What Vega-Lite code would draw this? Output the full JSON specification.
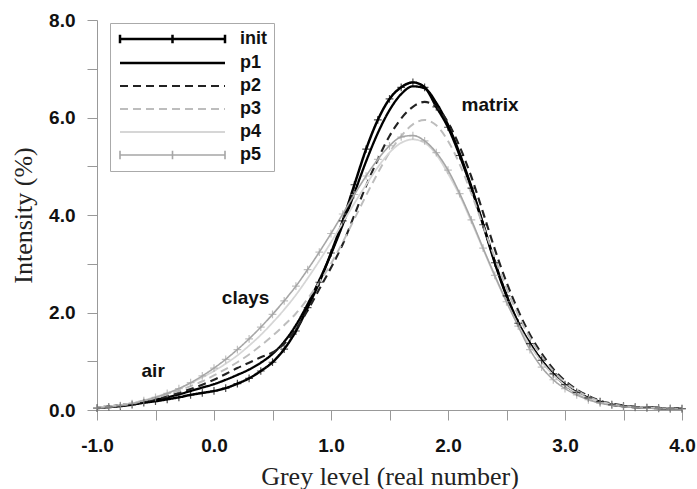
{
  "$schema": "https://vega.github.io/schema/vega-lite/v6.json",
  "width": 585,
  "height": 390,
  "autosize": {"type": "none"},
  "padding": {"left": 97, "top": 20, "right": 15, "bottom": 79},
  "background": "white",
  "config": {
    "view": {"stroke": null},
    "axis": {
      "grid": false,
      "domainColor": "#999",
      "tickColor": "#999",
      "labelFont": "Liberation Sans",
      "labelFontWeight": "bold",
      "labelFontSize": 19,
      "labelColor": "#111",
      "titleFont": "Liberation Serif",
      "titleFontWeight": "normal",
      "titleFontSize": 26,
      "titleColor": "#222"
    }
  },
  "datasets": {
    "curves": [
      {"x": -1.0, "init": 0.04, "p1": 0.05, "p2": 0.05, "p3": 0.05, "p4": 0.05, "p5": 0.04},
      {"x": -0.9, "init": 0.06, "p1": 0.07, "p2": 0.07, "p3": 0.07, "p4": 0.07, "p5": 0.06},
      {"x": -0.8, "init": 0.08, "p1": 0.09, "p2": 0.10, "p3": 0.10, "p4": 0.10, "p5": 0.09},
      {"x": -0.7, "init": 0.11, "p1": 0.12, "p2": 0.13, "p3": 0.14, "p4": 0.14, "p5": 0.13},
      {"x": -0.6, "init": 0.15, "p1": 0.16, "p2": 0.17, "p3": 0.19, "p4": 0.20, "p5": 0.19},
      {"x": -0.5, "init": 0.18, "p1": 0.21, "p2": 0.22, "p3": 0.25, "p4": 0.27, "p5": 0.26},
      {"x": -0.4, "init": 0.22, "p1": 0.26, "p2": 0.28, "p3": 0.32, "p4": 0.35, "p5": 0.34},
      {"x": -0.3, "init": 0.26, "p1": 0.32, "p2": 0.35, "p3": 0.40, "p4": 0.44, "p5": 0.44},
      {"x": -0.2, "init": 0.31, "p1": 0.39, "p2": 0.43, "p3": 0.49, "p4": 0.55, "p5": 0.56},
      {"x": -0.1, "init": 0.35, "p1": 0.46, "p2": 0.52, "p3": 0.59, "p4": 0.67, "p5": 0.70},
      {"x": 0.0, "init": 0.39, "p1": 0.53, "p2": 0.62, "p3": 0.71, "p4": 0.80, "p5": 0.86},
      {"x": 0.1, "init": 0.45, "p1": 0.62, "p2": 0.74, "p3": 0.84, "p4": 0.95, "p5": 1.04},
      {"x": 0.2, "init": 0.54, "p1": 0.72, "p2": 0.86, "p3": 0.98, "p4": 1.12, "p5": 1.24},
      {"x": 0.3, "init": 0.65, "p1": 0.83, "p2": 0.97, "p3": 1.14, "p4": 1.32, "p5": 1.46},
      {"x": 0.4, "init": 0.80, "p1": 0.97, "p2": 1.08, "p3": 1.32, "p4": 1.54, "p5": 1.70},
      {"x": 0.5, "init": 0.98, "p1": 1.15, "p2": 1.18, "p3": 1.52, "p4": 1.79, "p5": 1.96},
      {"x": 0.6, "init": 1.25, "p1": 1.40, "p2": 1.36, "p3": 1.74, "p4": 2.06, "p5": 2.24},
      {"x": 0.7, "init": 1.62, "p1": 1.74, "p2": 1.66, "p3": 1.98, "p4": 2.36, "p5": 2.54},
      {"x": 0.8, "init": 2.10, "p1": 2.17, "p2": 2.04, "p3": 2.28, "p4": 2.70, "p5": 2.88},
      {"x": 0.9, "init": 2.62, "p1": 2.66, "p2": 2.48, "p3": 2.62, "p4": 3.06, "p5": 3.24},
      {"x": 1.0, "init": 3.22, "p1": 3.20, "p2": 2.92, "p3": 3.00, "p4": 3.44, "p5": 3.62},
      {"x": 1.1, "init": 3.88, "p1": 3.80, "p2": 3.40, "p3": 3.44, "p4": 3.84, "p5": 4.02},
      {"x": 1.2, "init": 4.62, "p1": 4.45, "p2": 4.00, "p3": 3.92, "p4": 4.24, "p5": 4.42},
      {"x": 1.3, "init": 5.35, "p1": 5.10, "p2": 4.60, "p3": 4.40, "p4": 4.62, "p5": 4.80},
      {"x": 1.4, "init": 5.95, "p1": 5.68, "p2": 5.14, "p3": 4.86, "p4": 4.98, "p5": 5.14},
      {"x": 1.5, "init": 6.38, "p1": 6.15, "p2": 5.62, "p3": 5.28, "p4": 5.28, "p5": 5.42},
      {"x": 1.6, "init": 6.62, "p1": 6.48, "p2": 5.98, "p3": 5.62, "p4": 5.48, "p5": 5.60},
      {"x": 1.7, "init": 6.72, "p1": 6.64, "p2": 6.22, "p3": 5.86, "p4": 5.55, "p5": 5.63},
      {"x": 1.8, "init": 6.62, "p1": 6.60, "p2": 6.32, "p3": 5.95, "p4": 5.48, "p5": 5.52},
      {"x": 1.9, "init": 6.22, "p1": 6.30, "p2": 6.22, "p3": 5.84, "p4": 5.24, "p5": 5.28},
      {"x": 2.0, "init": 5.80, "p1": 5.85, "p2": 5.90, "p3": 5.52, "p4": 4.85, "p5": 4.92},
      {"x": 2.1, "init": 5.22, "p1": 5.26, "p2": 5.40, "p3": 5.04, "p4": 4.40, "p5": 4.44},
      {"x": 2.2, "init": 4.55, "p1": 4.58, "p2": 4.78, "p3": 4.44, "p4": 3.86, "p5": 3.90},
      {"x": 2.3, "init": 3.80, "p1": 3.82, "p2": 4.05, "p3": 3.78, "p4": 3.30, "p5": 3.32},
      {"x": 2.4, "init": 3.02, "p1": 3.04, "p2": 3.30, "p3": 3.12, "p4": 2.74, "p5": 2.76},
      {"x": 2.5, "init": 2.34, "p1": 2.36, "p2": 2.62, "p3": 2.50, "p4": 2.22, "p5": 2.22},
      {"x": 2.6, "init": 1.78, "p1": 1.80, "p2": 2.04, "p3": 1.95, "p4": 1.74, "p5": 1.72},
      {"x": 2.7, "init": 1.36, "p1": 1.37, "p2": 1.55, "p3": 1.48, "p4": 1.33, "p5": 1.24},
      {"x": 2.8, "init": 1.02, "p1": 1.02, "p2": 1.16, "p3": 1.10, "p4": 0.99, "p5": 0.88},
      {"x": 2.9, "init": 0.74, "p1": 0.74, "p2": 0.84, "p3": 0.80, "p4": 0.72, "p5": 0.62},
      {"x": 3.0, "init": 0.52, "p1": 0.52, "p2": 0.60, "p3": 0.57, "p4": 0.51, "p5": 0.44},
      {"x": 3.1, "init": 0.36, "p1": 0.36, "p2": 0.42, "p3": 0.40, "p4": 0.35, "p5": 0.31},
      {"x": 3.2, "init": 0.25, "p1": 0.25, "p2": 0.29, "p3": 0.27, "p4": 0.24, "p5": 0.21},
      {"x": 3.3, "init": 0.17, "p1": 0.17, "p2": 0.19, "p3": 0.18, "p4": 0.16, "p5": 0.14},
      {"x": 3.4, "init": 0.11, "p1": 0.11, "p2": 0.13, "p3": 0.12, "p4": 0.11, "p5": 0.10},
      {"x": 3.5, "init": 0.08, "p1": 0.08, "p2": 0.09, "p3": 0.08, "p4": 0.08, "p5": 0.07},
      {"x": 3.6, "init": 0.06, "p1": 0.06, "p2": 0.06, "p3": 0.06, "p4": 0.06, "p5": 0.05},
      {"x": 3.7, "init": 0.05, "p1": 0.05, "p2": 0.05, "p3": 0.05, "p4": 0.05, "p5": 0.04},
      {"x": 3.8, "init": 0.04, "p1": 0.04, "p2": 0.04, "p3": 0.04, "p4": 0.04, "p5": 0.03},
      {"x": 3.9, "init": 0.03, "p1": 0.03, "p2": 0.03, "p3": 0.03, "p4": 0.03, "p5": 0.03},
      {"x": 4.0, "init": 0.03, "p1": 0.03, "p2": 0.03, "p3": 0.03, "p4": 0.03, "p5": 0.02}
    ],
    "notes": [
      {"x": 2.36, "y": 6.26, "label": "matrix"},
      {"x": 0.27, "y": 2.3, "label": "clays"},
      {"x": -0.52, "y": 0.79, "label": "air"}
    ]
  },
  "layer": [
    {
      "data": {"name": "curves"},
      "transform": [{"fold": ["init", "p1", "p2", "p3", "p4", "p5"], "as": ["series", "value"]}],
      "mark": {"type": "line", "interpolate": "monotone"},
      "encoding": {
        "x": {
          "field": "x", "type": "quantitative",
          "scale": {"domain": [-1, 4], "nice": false, "zero": false},
          "axis": {
            "title": "Grey level (real number)",
            "values": [-1, -0.5, 0, 0.5, 1, 1.5, 2, 2.5, 3, 3.5, 4],
            "labelExpr": "datum.value % 1 === 0 ? (datum.value < 0 ? '-' + format(-datum.value, '.1f') : format(datum.value, '.1f')) : ''",
            "tickSize": 10,
            "labelPadding": 16,
            "titlePadding": 8,
            "labelFlush": false,
            "labelOverlap": false
          }
        },
        "y": {
          "field": "value", "type": "quantitative",
          "scale": {"domain": [0, 8], "nice": false},
          "axis": {
            "title": "Intensity (%)",
            "values": [0, 1, 2, 3, 4, 5, 6, 7, 8],
            "labelExpr": "datum.value % 2 === 0 ? format(datum.value, '.1f') : ''",
            "tickSize": 10,
            "labelPadding": 12,
            "titlePadding": 12,
            "labelOverlap": false
          }
        },
        "color": {
          "field": "series", "type": "nominal",
          "scale": {"domain": ["init", "p1", "p2", "p3", "p4", "p5"], "range": ["#000000", "#000000", "#222222", "#bdbdbd", "#d6d6d6", "#a6a6a6"]},
          "legend": {
            "title": null, "orient": "none", "legendX": 13, "legendY": 3,
            "symbolType": "stroke", "symbolSize": 100,
            "labelFont": "Liberation Sans", "labelFontWeight": "bold", "labelFontSize": 18, "labelColor": "#111",
            "rowPadding": 5, "padding": 7,
            "strokeColor": "#aaa", "fillColor": "white",
            "encode": {
              "symbols": {"update": {
                "shape": {"signal": "datum.value === 'init' || datum.value === 'p5' ? 'M-1,0H1M-1,-0.08V0.08M0,-0.08V0.08M1,-0.08V0.08' : 'stroke'"},
                "size": {"value": 11025},
                "x": {"value": 55.5},
                "y": {"value": 9}
              }},
              "labels": {"update": {"x": {"value": 123}, "y": {"value": 9}}}
            }
          }
        },
        "strokeDash": {
          "field": "series", "type": "nominal",
          "scale": {"domain": ["init", "p1", "p2", "p3", "p4", "p5"], "range": [[1, 0], [1, 0], [8, 5], [8, 5], [1, 0], [1, 0]]},
          "legend": {
            "title": null, "orient": "none", "legendX": 13, "legendY": 3,
            "symbolType": "stroke", "symbolSize": 100,
            "labelFont": "Liberation Sans", "labelFontWeight": "bold", "labelFontSize": 18, "labelColor": "#111",
            "rowPadding": 5, "padding": 7,
            "strokeColor": "#aaa", "fillColor": "white"
          }
        },
        "strokeWidth": {
          "field": "series", "type": "nominal",
          "scale": {"domain": ["init", "p1", "p2", "p3", "p4", "p5"], "range": [2.5, 1.6, 1.6, 1.8, 1, 2.5]},
          "legend": {
            "title": null, "orient": "none", "legendX": 13, "legendY": 3,
            "symbolType": "stroke", "symbolSize": 100,
            "labelFont": "Liberation Sans", "labelFontWeight": "bold", "labelFontSize": 18, "labelColor": "#111",
            "rowPadding": 5, "padding": 7,
            "strokeColor": "#aaa", "fillColor": "white"
          }
        }
      }
    },
    {
      "data": {"name": "curves"},
      "transform": [{"fold": ["init", "p5"], "as": ["series", "value"]}],
      "mark": {"type": "point", "shape": "M0,-1V1M-1,0H1", "filled": false, "size": 60, "strokeWidth": 1.2},
      "encoding": {
        "x": {"field": "x", "type": "quantitative"},
        "y": {"field": "value", "type": "quantitative"},
        "stroke": {"condition": {"test": "datum.series === 'init'", "value": "#000000"}, "value": "#a6a6a6"}
      }
    },
    {
      "data": {"name": "notes"},
      "mark": {"type": "text", "font": "Liberation Sans", "fontWeight": "bold", "fontSize": 19, "color": "#111", "align": "center", "baseline": "middle"},
      "encoding": {
        "x": {"field": "x", "type": "quantitative"},
        "y": {"field": "y", "type": "quantitative"},
        "text": {"field": "label"}
      }
    }
  ]
}
